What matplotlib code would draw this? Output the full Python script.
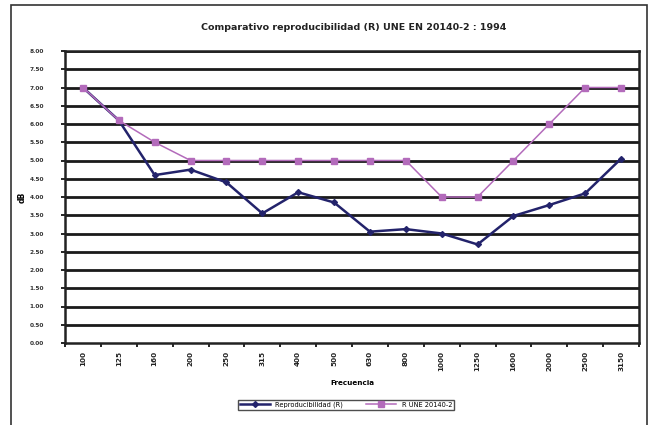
import matplotlib
matplotlib.use("Agg")
import matplotlib.pyplot as plt
from matplotlib.patches import Rectangle

title = "Comparativo reproducibilidad (R) UNE EN 20140-2 : 1994"
frequencies = ["100", "125", "160", "200", "250", "315", "400", "500",
               "630", "800", "1000", "1250", "1600", "2000", "2500", "3150"]
reproducibilidad = [7.0, 6.1, 4.6, 4.75, 4.4, 3.55, 4.13, 3.85,
                    3.05, 3.12, 3.0, 2.7, 3.48, 3.78, 4.1, 5.05]
r_une = [7.0, 6.1, 5.5, 5.0, 5.0, 5.0, 5.0, 5.0,
         5.0, 5.0, 4.0, 4.0, 5.0, 6.0, 7.0, 7.0]
yticks = [i * 0.5 for i in range(17)]
ytick_labels = ["%.2f" % v for v in yticks]
label_rep = "Reproducibilidad (R)"
label_une = "R UNE 20140-2"

W, H = 659, 425
fig = plt.figure(figsize=(W / 100, H / 100), dpi=100)
fig.patch.set_facecolor("white")

# outer frame
fig.add_artist(Rectangle((11 / W, -0.01), (647 - 11) / W, (H - 5) / H + 0.01,
                         transform=fig.transFigure, fill=False,
                         edgecolor="#333333", linewidth=1.2))

left, right, top, bottom = 65, 639, 51, 343
ax = fig.add_axes([left / W, 1 - bottom / H, (right - left) / W, (bottom - top) / H])

x = list(range(len(frequencies)))
ax.set_xlim(-0.5, len(frequencies) - 0.5)
ax.set_ylim(0, 8)
ax.set_yticks(yticks)
ax.set_yticklabels(ytick_labels, fontsize=4.2, fontweight="bold", color="#333333")
ax.set_xticks(x)
ax.set_xticklabels(frequencies, rotation=90, fontsize=5.2, fontweight="bold", color="#222222")
ax.set_xticks([i - 0.5 for i in range(len(frequencies) + 1)], minor=True)
ax.tick_params(axis="x", which="major", length=0, pad=6)
ax.tick_params(axis="x", which="minor", length=3, width=1.2)
ax.tick_params(axis="y", length=3, width=1.2, pad=12)

for v in yticks[1:]:
    ax.axhline(v, color="#1a1a1a", linewidth=2.0, zorder=1)

for s in ["top", "right", "left", "bottom"]:
    ax.spines[s].set_linewidth(1.8)
    ax.spines[s].set_color("#222222")

ax.plot(x, reproducibilidad, color="#23236b", linewidth=1.8, marker="D",
        markersize=3, label=label_rep, zorder=3)
ax.plot(x, r_une, color="#b36bbb", linewidth=1.1, marker="s",
        markersize=3.8, label=label_une, zorder=3)

ax.set_xlabel("Frecuencia", fontsize=5.2, fontweight="bold", labelpad=6)
ax.set_ylabel("dB", fontsize=5.5, fontweight="bold", labelpad=2)
fig.text(0.5 * (left + right) / W + 0.003, 1 - 28 / H, title, ha="center", va="center",
         fontsize=6.8, fontweight="bold", color="#222222")

leg = fig.legend(loc="center", bbox_to_anchor=(346 / W, 1 - 405 / H), ncol=2,
                 fontsize=4.8, frameon=True, fancybox=False, edgecolor="#222222",
                 handlelength=4.5, columnspacing=3.5, borderpad=0.3)
leg.get_frame().set_linewidth(1.0)

fig.savefig("out.png", dpi=100)
